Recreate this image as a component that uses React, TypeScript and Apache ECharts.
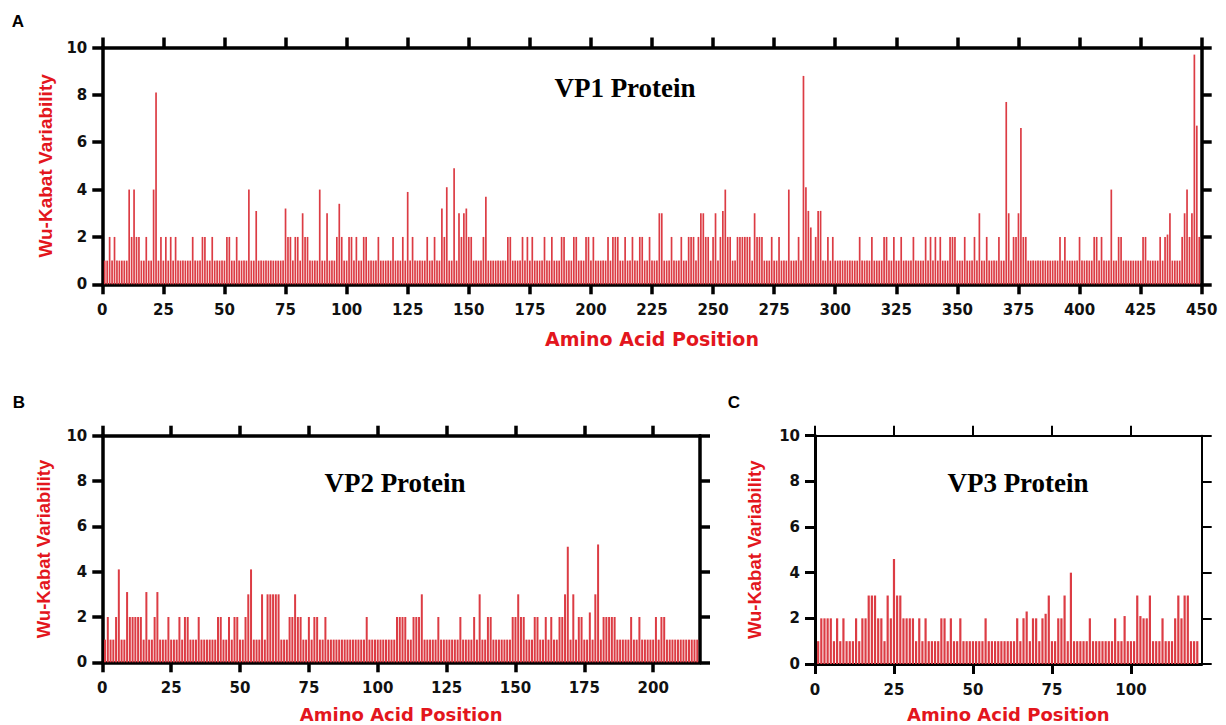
import React, { useEffect, useRef } from "react";
import * as echarts from "echarts";

// Wu-Kabat variability per amino-acid position (position = index + 1)
const vp1Values: number[] = [
  1, 1, 2, 1, 2, 1, 1, 1, 1, 1, 4, 2, 4, 2, 2, 1, 1, 2, 1, 1, 4, 8.1, 1, 2, 1,
  2, 1, 2, 1, 2, 1, 1, 1, 1, 1, 1, 2, 1, 1, 1, 2, 2, 1, 1, 2, 1, 1, 1, 1, 1,
  2, 2, 1, 1, 2, 1, 1, 1, 1, 4, 1, 1, 3.1, 1, 1, 1, 1, 1, 1, 1, 1, 1, 1, 1, 3.2,
  2, 2, 1, 2, 2, 1, 3, 2, 2, 1, 1, 1, 1, 4, 1, 1, 3, 1, 1, 1, 2, 3.4, 2, 1, 1,
  2, 2, 1, 2, 1, 1, 2, 2, 1, 1, 1, 1, 2, 1, 1, 1, 1, 1, 2, 1, 1, 1, 2, 1, 3.9,
  1, 2, 1, 1, 1, 1, 1, 2, 1, 1, 2, 1, 1, 3.2, 2, 4.1, 1, 1, 4.9, 1, 3, 2, 3, 3.2, 2,
  2, 1, 1, 1, 1, 2, 3.7, 1, 1, 1, 1, 1, 1, 1, 1, 2, 2, 1, 1, 1, 1, 2, 1, 2, 1,
  2, 1, 1, 1, 1, 2, 1, 1, 2, 1, 1, 1, 2, 2, 1, 1, 1, 2, 2, 1, 1, 1, 2, 2, 1,
  2, 1, 1, 1, 1, 1, 2, 1, 2, 2, 2, 1, 1, 2, 1, 1, 2, 1, 1, 2, 2, 1, 1, 2, 1,
  1, 1, 3, 3, 1, 1, 1, 2, 1, 1, 1, 2, 1, 1, 2, 2, 2, 1, 2, 3, 3, 2, 2, 1, 2,
  3, 1, 2, 3.1, 4, 2, 2, 1, 1, 2, 2, 2, 2, 2, 2, 1, 3, 2, 2, 2, 1, 1, 1, 2, 1,
  1, 2, 1, 1, 1, 4, 1, 1, 1, 2, 1, 8.8, 4.1, 3.1, 2.4, 1, 2, 3.1, 3.1, 1, 1, 2, 1, 2, 1,
  1, 1, 1, 1, 1, 1, 1, 1, 1, 2, 1, 1, 1, 1, 2, 1, 1, 1, 1, 2, 2, 1, 1, 2, 1,
  1, 2, 1, 1, 1, 1, 2, 1, 1, 1, 1, 2, 1, 2, 1, 2, 1, 2, 1, 1, 1, 2, 2, 2, 1,
  1, 1, 2, 1, 1, 1, 2, 1, 3, 1, 1, 2, 1, 1, 1, 1, 2, 1, 1, 7.7, 3, 1, 2, 2, 3,
  6.6, 2, 2, 1, 1, 1, 1, 1, 1, 1, 1, 1, 1, 1, 1, 1, 2, 1, 2, 1, 1, 1, 1, 1, 2,
  1, 1, 1, 1, 1, 2, 2, 1, 2, 1, 1, 1, 4, 1, 1, 2, 2, 1, 1, 1, 1, 1, 1, 1, 1,
  2, 2, 1, 1, 1, 1, 1, 2, 1, 2, 2.1, 3, 1, 1, 1, 1, 2, 3, 4, 2, 3, 9.7, 6.7, 2,
];

const vp2Values: number[] = [
  1, 2, 1, 1, 2, 4.1, 1, 1, 3.1, 2, 2, 2, 2, 2, 1, 3.1, 1, 1, 2, 3.1, 1, 1, 1, 2, 1,
  1, 1, 2, 1, 2, 2, 1, 1, 1, 2, 1, 1, 1, 1, 1, 1, 2, 2, 1, 1, 2, 1, 2, 2, 1,
  1, 2, 3, 4.1, 1, 1, 1, 3, 1, 3, 3, 3, 3, 3, 1, 1, 1, 2, 2, 3, 2, 2, 1, 1, 2,
  1, 2, 2, 1, 1, 2, 1, 1, 1, 1, 1, 1, 1, 1, 1, 1, 1, 1, 1, 1, 2, 1, 1, 1, 1,
  1, 1, 1, 1, 1, 1, 2, 2, 2, 2, 1, 1, 2, 2, 2, 3, 1, 1, 1, 1, 1, 2, 1, 1, 1,
  1, 1, 1, 1, 2, 1, 1, 1, 1, 2, 1, 3, 1, 1, 2, 2, 1, 1, 1, 1, 1, 1, 1, 2, 2,
  3, 2, 2, 1, 1, 1, 2, 2, 1, 1, 2, 1, 2, 1, 1, 2, 2, 3, 5.1, 1, 3, 1, 2, 2, 1,
  1, 2.2, 1, 3, 5.2, 1, 2, 2, 2, 2, 2, 1, 1, 1, 1, 1, 2, 1, 1, 2, 1, 1, 1, 1, 1,
  2, 1, 2, 2, 1, 1, 1, 1, 1, 1, 1, 1, 1, 1, 1, 1,
];

const vp3Values: number[] = [
  1, 2, 2, 2, 2, 1, 2, 1, 2, 1, 1, 1, 2, 1, 2, 2, 3, 3, 3, 2, 2, 1, 3, 2, 4.6,
  3, 3, 2, 2, 2, 2, 1, 2, 1, 2, 1, 1, 1, 1, 2, 2, 1, 2, 1, 1, 2, 1, 1, 1, 1,
  1, 1, 1, 2, 1, 1, 1, 1, 1, 1, 1, 1, 1, 2, 1, 2, 2.3, 1, 2, 2, 1, 2, 2.2, 3, 1,
  1, 2, 2, 3, 1, 4, 1, 1, 1, 1, 1, 2, 1, 1, 1, 1, 1, 1, 1, 2, 1, 1, 2.1, 1, 1,
  1, 3, 2.1, 2, 2, 3, 1, 1, 1, 2, 1, 1, 1, 2, 3, 2, 3, 3, 1, 1, 1,
];

const vp1Ticks = [0, 25, 50, 75, 100, 125, 150, 175, 200, 225, 250, 275, 300, 325, 350, 375, 400, 425, 450];
const vp2Ticks = [0, 25, 50, 75, 100, 125, 150, 175, 200];
const vp3Ticks = [0, 25, 50, 75, 100];
const yTicks = [0, 2, 4, 6, 8, 10];

const panelTitles = ["VP1 Protein", "VP2 Protein", "VP3 Protein"];
const panelLetters = ["A", "B", "C"];
const xName = "Amino Acid Position";
const yName = "Wu-Kabat Variability";

const RED = "#e3161d";
const BAR = "#dc3c44";
const LABEL_FONT = "'DejaVu Sans', sans-serif";
const NAME_FONT = "'Liberation Sans', Arial, sans-serif";

function toPairs(vals: number[]) {
  return vals.map((v, i) => [i + 1, v]);
}

function xAxes(grid: number, max: number, ticks: number[], lw: number, topLw: number, nameGap: number, nameSize: number) {
  const bottom = {
    type: "value",
    gridIndex: grid,
    position: "bottom",
    min: 0,
    max,
    splitLine: { show: false },
    axisLine: { show: true, onZero: false, lineStyle: { color: "#000", width: lw } },
    axisTick: { show: true, length: 10, customValues: ticks, lineStyle: { color: "#000", width: lw } },
    axisLabel: {
      show: true,
      customValues: ticks,
      margin: 18,
      color: "#111",
      fontFamily: LABEL_FONT,
      fontWeight: "bold",
      fontSize: 15,
    },
    name: xName,
    nameLocation: "middle",
    nameGap,
    nameTextStyle: { color: RED, fontFamily: LABEL_FONT, fontWeight: "bold", fontSize: nameSize },
  };
  const top = {
    type: "value",
    gridIndex: grid,
    position: "top",
    min: 0,
    max,
    splitLine: { show: false },
    axisLine: { show: true, onZero: false, lineStyle: { color: "#000", width: topLw } },
    axisTick: { show: true, length: 10, customValues: ticks, lineStyle: { color: "#000", width: topLw } },
    axisLabel: { show: false },
  };
  return [bottom, top];
}

function yAxes(grid: number, lw: number, rightLw: number, nameGap: number, nameSize: number) {
  const left = {
    type: "value",
    gridIndex: grid,
    position: "left",
    min: 0,
    max: 10,
    interval: 2,
    splitLine: { show: false },
    axisLine: { show: true, onZero: false, lineStyle: { color: "#000", width: lw } },
    axisTick: { show: true, length: 10, lineStyle: { color: "#000", width: lw } },
    axisLabel: {
      show: true,
      customValues: yTicks,
      margin: 15,
      color: "#111",
      fontFamily: LABEL_FONT,
      fontWeight: "bold",
      fontSize: 15,
    },
    name: yName,
    nameLocation: "middle",
    nameGap,
    nameRotate: 90,
    nameTextStyle: { color: RED, fontFamily: NAME_FONT, fontWeight: "bold", fontSize: nameSize },
  };
  const right = {
    type: "value",
    gridIndex: grid,
    position: "right",
    min: 0,
    max: 10,
    interval: 2,
    splitLine: { show: false },
    axisLine: { show: true, onZero: false, lineStyle: { color: "#000", width: rightLw } },
    axisTick: { show: true, length: 10, lineStyle: { color: "#000", width: rightLw } },
    axisLabel: { show: false },
  };
  return [left, right];
}

function titleText(text: string, x: number, y: number) {
  return {
    type: "text",
    x,
    y,
    style: {
      text,
      fill: "#000",
      font: "bold 27px 'Liberation Serif', 'Times New Roman', serif",
      align: "center",
      verticalAlign: "middle",
    },
  };
}

function letterText(text: string, x: number, y: number) {
  return {
    type: "text",
    x,
    y,
    style: {
      text,
      fill: "#000",
      font: "bold 17px 'Liberation Sans', Arial, sans-serif",
      align: "center",
      verticalAlign: "middle",
    },
  };
}

export default function App() {
  const ref = useRef<HTMLDivElement>(null);

  useEffect(() => {
    if (!ref.current) return;
    const chart = echarts.init(ref.current, undefined, { renderer: "svg" });

    const option: any = {
      animation: false,
      backgroundColor: "#fff",
      grid: [
        { left: 102.3, width: 1099.4, top: 47.5, height: 236.8, outerBoundsMode: "none" },
        { left: 102.3, width: 597.7, top: 435.7, height: 226.6, outerBoundsMode: "none" },
        { left: 815, width: 386.7, top: 435.7, height: 228.3, outerBoundsMode: "none" },
      ],
      xAxis: [
        ...xAxes(0, 450, vp1Ticks, 3.5, 3.5, 45, 19),
        ...xAxes(1, 217, vp2Ticks, 3.5, 3.5, 43, 18),
        ...xAxes(2, 122.4, vp3Ticks, 3, 2, 41, 18),
      ],
      yAxis: [
        ...yAxes(0, 3.5, 3.5, 47, 19),
        ...yAxes(1, 3.5, 3.5, 49, 18.5),
        ...yAxes(2, 3, 2, 51, 18.5),
      ],
      series: [
        {
          type: "bar",
          xAxisIndex: 0,
          yAxisIndex: 0,
          data: toPairs(vp1Values),
          barWidth: 1.7,
          itemStyle: { color: BAR },
        },
        {
          type: "bar",
          xAxisIndex: 2,
          yAxisIndex: 2,
          data: toPairs(vp2Values),
          barWidth: 2,
          itemStyle: { color: BAR },
        },
        {
          type: "bar",
          xAxisIndex: 4,
          yAxisIndex: 4,
          data: toPairs(vp3Values),
          barWidth: 2.2,
          itemStyle: { color: BAR },
        },
      ],
      graphic: [
        titleText(panelTitles[0], 625, 88),
        titleText(panelTitles[1], 395, 483),
        titleText(panelTitles[2], 1018, 483),
        letterText(panelLetters[0], 18, 21),
        letterText(panelLetters[1], 19, 402),
        letterText(panelLetters[2], 734, 402),
      ],
    };

    chart.setOption(option);
    return () => chart.dispose();
  }, []);

  return (
    <div
      ref={ref}
      style={{ position: "absolute", left: 0, top: 0, width: 1226, height: 725, background: "#fff" }}
    />
  );
}
